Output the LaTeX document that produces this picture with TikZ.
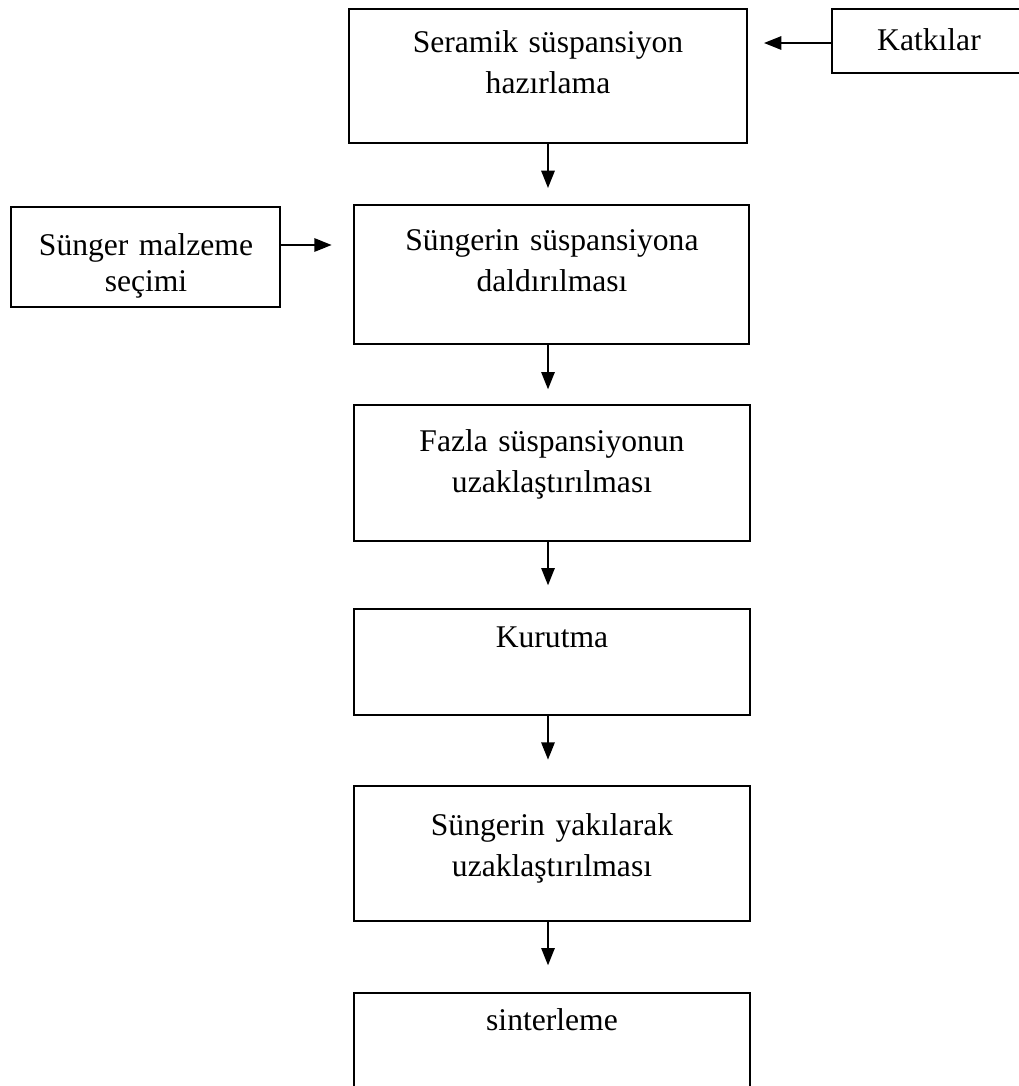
\documentclass[tikz,border=0pt]{standalone}
\usepackage{fontspec}
\setmainfont{Liberation Serif}
\usetikzlibrary{arrows.meta}
\tikzset{
  box/.style={draw=black, line width=1.5pt, rectangle, inner sep=0pt},
  lbl/.style={inner sep=0pt, anchor=base, align=center, text width=290pt,
    font=\fontsize{23.7pt}{30.75pt}\selectfont},
  arr/.style={line width=1.5pt, -{Triangle[length=13pt,width=10pt]}}
}
\begin{document}
\begin{tikzpicture}[x=0.75pt,y=-0.75pt]
\useasboundingbox (0,0) rectangle (1019,1086);
\clip (0,0) rectangle (1019,1086);
% boxes
\node[box, minimum width=298.5pt, minimum height=100.5pt] (b1) at (548,76) {};
\node[box, minimum width=148.5pt, minimum height=48pt] (k) at (931,41) {};
\node[box, minimum width=201.75pt, minimum height=75pt] (s) at (145.5,257) {};
\node[box, minimum width=296.25pt, minimum height=104.25pt] (b2) at (551.5,274.5) {};
\node[box, minimum width=297pt, minimum height=102pt] (b3) at (552,473) {};
\node[box, minimum width=297pt, minimum height=79.5pt] (b4) at (552,662) {};
\node[box, minimum width=297pt, minimum height=101.25pt] (b5) at (552,853.5) {};
\node[box, minimum width=297pt, minimum height=80.25pt] (b6) at (552,1046.5) {};
% texts
\node[lbl] (t1) at (548,52) {Seramik süspansiyon\\hazırlama};
\node[lbl] (tk) at (929,50) {Katkılar};
\node[lbl, font=\fontsize{23.7pt}{27pt}\selectfont] (ts) at (146,255) {Sünger malzeme\\seçimi};
\node[lbl] (t2) at (552,250) {Süngerin süspansiyona\\daldırılması};
\node[lbl] (t3) at (552,451) {Fazla süspansiyonun\\uzaklaştırılması};
\node[lbl] (t4) at (552,647) {Kurutma};
\node[lbl] (t5) at (552,835) {Süngerin yakılarak\\uzaklaştırılması};
\node[lbl] (t6) at (552,1030) {sinterleme};
% connectors
\draw[arr, shorten >=12pt] (k.west |- 0,43) -- (b1.east |- 0,43);
\draw[arr, shorten >=16pt] (s.east |- 0,245) -- (b2.west |- 0,245);
\draw[arr, shorten >=12pt] (b1.south) -- (b1.south |- b2.north);
\draw[arr, shorten >=11pt] (b1.south |- b2.south) -- (b1.south |- b3.north);
\draw[arr, shorten >=17pt] (b1.south |- b3.south) -- (b1.south |- b4.north);
\draw[arr, shorten >=19pt] (b1.south |- b4.south) -- (b1.south |- b5.north);
\draw[arr, shorten >=20pt] (b1.south |- b5.south) -- (b1.south |- b6.north);
\end{tikzpicture}
\end{document}
